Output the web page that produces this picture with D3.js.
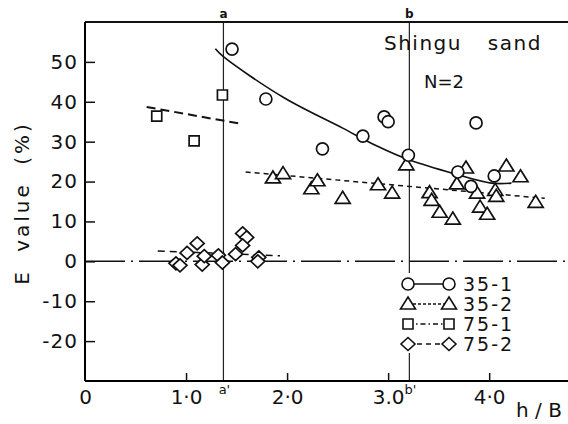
<!DOCTYPE html>
<html>
<head>
<meta charset="utf-8">
<script src="https://cdn.jsdelivr.net/npm/d3@7"></script>
<style>
  body { margin: 0; background: #fff; }
  svg { display: block; }
  text { font-family: 'DejaVu Sans', sans-serif; fill: #111; }
</style>
</head>
<body>
<div id="chart"></div>
<script>
'use strict';

var W = 568, H = 424;

// 35-1 : circles
var s351 = [[1.455, 53.2], [1.79, 40.7], [2.35, 28.2], [2.75, 31.4], [2.96, 36.2], [3.0, 35.0],
  [3.2, 26.6], [3.69, 22.4], [3.82, 18.8], [3.87, 34.7], [4.05, 21.4]];
var fit351 = [[1.29, 53.3], [1.37, 51.3], [1.97, 41.0], [2.55, 33.4], [2.89, 28.9], [3.2, 25.5],
  [3.66, 21.9], [4.02, 19.6], [4.22, 19.6]];

// 35-2 : triangles
var s352 = [[1.86, 20.9], [1.96, 22.0], [2.24, 18.2], [2.3, 20.2], [2.55, 15.8], [2.9, 19.2],
  [3.04, 17.1], [3.18, 24.2], [3.41, 17.2], [3.43, 15.3], [3.51, 12.3], [3.64, 10.6],
  [3.68, 19.4], [3.77, 23.4], [3.88, 17.1], [3.91, 13.6], [3.98, 11.8], [4.06, 17.8],
  [4.07, 16.3], [4.17, 23.9], [4.31, 21.2], [4.46, 14.8]];
var fit352 = [[1.59, 22.4], [4.55, 15.8]];

// 75-1 : squares
var s751 = [[0.71, 36.4], [1.08, 30.2], [1.36, 41.7]];
var fit751 = [[0.61, 38.7], [1.56, 34.4]];

// 75-2 : diamonds
var s752 = [[0.9, -0.5], [0.94, -1.0], [1.01, 2.1], [1.11, 4.5], [1.16, -0.8], [1.18, 1.3],
  [1.32, 1.5], [1.36, -0.3], [1.49, 1.8], [1.56, 7.0], [1.6, 6.0], [1.56, 4.0],
  [1.72, 1.0], [1.71, 0.0]];
var fit752 = [[0.72, 2.6], [1.93, 1.4]];

var xTicks = [0, 1, 2, 3, 4];
var xTickLabels = ['0', '1·0', '2·0', '3.0', '4·0'];
var yTicks = [50, 40, 30, 20, 10, 0, -10, -20];
var yTickLabels = ['50', '40', '30', '20', '10', '0', '-10', '-20'];
var refLines = [{ x: 1.37, top: 'a', bottom: "a'" }, { x: 3.21, top: 'b', bottom: "b'" }];
var legendNames = ['35-1', '35-2', '75-1', '75-2'];

var svg = d3.select('#chart').append('svg')
  .attr('width', W)
  .attr('height', H);

var x = d3.scaleLinear().domain([0, 4.78]).range([85, 568]);
var y = d3.scaleLinear().domain([-30, 60]).range([381, 22]);

// reference lines a, b
refLines.forEach(function(r) {
  svg.append('line')
    .attr('x1', x(r.x)).attr('x2', x(r.x))
    .attr('y1', y(60)).attr('y2', y(-30))
    .attr('stroke', '#222').attr('stroke-width', 1.2);
  svg.append('text').attr('x', x(r.x)).attr('y', 18)
    .attr('text-anchor', 'middle').style('font-size', '12px').style('font-weight', 'bold')
    .text(r.top);
  svg.append('text').attr('x', x(r.x) + 1).attr('y', 394)
    .attr('text-anchor', 'middle').style('font-size', '13px')
    .text(r.bottom);
});

// zero line
svg.append('line')
  .attr('x1', x(0)).attr('x2', W)
  .attr('y1', y(0)).attr('y2', y(0))
  .attr('stroke', '#111').attr('stroke-width', 1.5)
  .attr('stroke-dasharray', '40,6,2,6');

// frame
svg.append('line').attr('x1', x(0)).attr('x2', W).attr('y1', y(60)).attr('y2', y(60))
  .attr('stroke', '#111').attr('stroke-width', 2);

var yAxis = svg.append('g')
  .attr('transform', 'translate(' + x(0) + ',0)')
  .call(d3.axisLeft(y).tickValues(yTicks).tickSize(-10).tickPadding(7)
    .tickFormat(function(d, i) { return yTickLabels[i]; }));
yAxis.select('.domain').attr('d', 'M0,' + y(60) + 'V' + y(-30)).attr('stroke-width', 2);

var xAxis = svg.append('g')
  .attr('transform', 'translate(0,' + y(-30) + ')')
  .call(d3.axisBottom(x).tickValues(xTicks).tickSize(-8).tickPadding(9)
    .tickFormat(function(d, i) { return xTickLabels[i]; }));
xAxis.select('.domain').attr('d', 'M' + x(0) + ',0H' + W).attr('stroke-width', 2);

svg.selectAll('.tick line').attr('stroke', '#111').attr('stroke-width', 1.5);
svg.selectAll('.tick text').style('font-size', '20px').style('font-family', "'DejaVu Sans', sans-serif")
  .attr('fill', '#111');
yAxis.selectAll('.tick text').style('letter-spacing', '1px');
xAxis.selectAll('.tick').filter(function(d) { return d === 0; }).select('line').remove();

// axis titles
svg.append('text')
  .attr('transform', 'translate(29,' + 203 + ') rotate(-90)')
  .attr('text-anchor', 'middle')
  .style('font-size', '20px').style('letter-spacing', '3px').style('word-spacing', '8px')
  .text('E value (%)');
svg.append('text').attr('x', 516).attr('y', 417)
  .style('font-size', '20px')
  .text('h / B');

svg.append('text').attr('x', 384).attr('y', 50)
  .style('font-size', '20px').style('letter-spacing', '1.5px').style('word-spacing', '18px')
  .text('Shingu sand');
svg.append('text').attr('x', 424).attr('y', 88)
  .style('font-size', '18px')
  .text('N=2');

// fit lines
var straight = d3.line().x(function(d) { return x(d[0]); }).y(function(d) { return y(d[1]); });
var smooth = d3.line().curve(d3.curveCatmullRom).x(function(d) { return x(d[0]); }).y(function(d) { return y(d[1]); });

svg.append('path').attr('d', smooth(fit351)).attr('fill', 'none')
  .attr('stroke', '#111').attr('stroke-width', 1.6);
svg.append('path').attr('d', straight(fit352)).attr('fill', 'none')
  .attr('stroke', '#111').attr('stroke-width', 1.5).attr('stroke-dasharray', '5,4');
svg.append('path').attr('d', straight(fit751)).attr('fill', 'none')
  .attr('stroke', '#111').attr('stroke-width', 2).attr('stroke-dasharray', '9,5');
svg.append('path').attr('d', straight(fit752)).attr('fill', 'none')
  .attr('stroke', '#111').attr('stroke-width', 1.5).attr('stroke-dasharray', '7,5');

// marker shapes
function shapePath(kind) {
  if (kind === 'circle') return 'M-6,0a6,6 0 1,0 12,0a6,6 0 1,0 -12,0Z';
  if (kind === 'triangle') return 'M0,-7L7.5,5L-7.5,5Z';
  if (kind === 'square') return 'M-5,-5H5V5H-5Z';
  return 'M0,-6.5L7,0L0,6.5L-7,0Z';
}

function drawPoints(data, kind) {
  svg.append('g').selectAll('path')
    .data(data)
    .enter().append('path')
    .attr('transform', function(d) { return 'translate(' + x(d[0]) + ',' + y(d[1]) + ')'; })
    .attr('d', shapePath(kind))
    .attr('fill', 'white')
    .attr('stroke', '#111')
    .attr('stroke-width', 1.7);
}

drawPoints(s752, 'diamond');
drawPoints(s751, 'square');
drawPoints(s352, 'triangle');
drawPoints(s351, 'circle');

// legend
var kinds = ['circle', 'triangle', 'square', 'diamond'];
var dashes = [null, '3,2', '5,3,1.5,3', '5,4'];
svg.append('rect').attr('x', 399).attr('y', 273).attr('width', 160).attr('height', 80).attr('fill', 'white');
legendNames.forEach(function(name, i) {
  var ly = 284 + i * 20;
  svg.append('line').attr('x1', 408).attr('x2', 449).attr('y1', ly).attr('y2', ly)
    .attr('stroke', '#111').attr('stroke-width', 1.5)
    .attr('stroke-dasharray', dashes[i]);
  [408, 449].forEach(function(px) {
    svg.append('path').attr('transform', 'translate(' + px + ',' + ly + ')')
      .attr('d', shapePath(kinds[i]))
      .attr('fill', 'white').attr('stroke', '#111').attr('stroke-width', 1.6);
  });
  svg.append('text').attr('x', 463).attr('y', ly + 7)
    .style('font-size', '19px').style('letter-spacing', '2px')
    .text(name);
});
</script>
</body>
</html>
